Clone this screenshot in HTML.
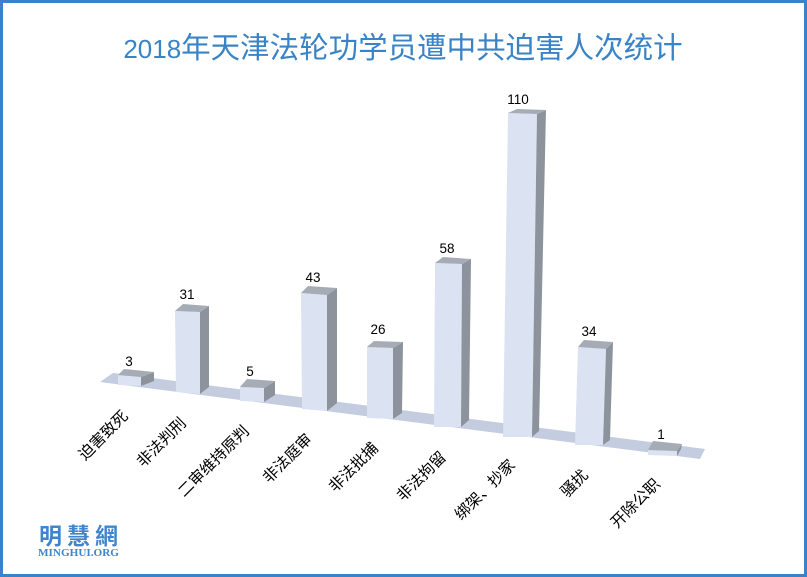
<!DOCTYPE html>
<html><head><meta charset="utf-8"><style>
html,body{margin:0;padding:0;background:#fff;}
svg{display:block;}
</style></head><body>
<svg width="807" height="577" viewBox="0 0 807 577" xmlns="http://www.w3.org/2000/svg">
<rect x="0" y="0" width="807" height="577" fill="#ffffff"/>
<rect x="1.5" y="1.5" width="804" height="574" fill="none" stroke="#3b83c6" stroke-width="3"/>

<text x="403" y="58" text-anchor="middle" fill="#3a84c6" font-family="Liberation Sans, Noto Sans CJK SC, sans-serif"><tspan font-size="26">2018</tspan><tspan font-size="29.5" font-family="Noto Sans CJK SC, sans-serif">年天津法轮功学员遭中共迫害人次统计</tspan></text>

<!-- floor -->
<polygon points="113,373 705,449 700,459 100,382" fill="#c3cddf"/>

<g>
<!-- bar 1 -->
<polygon points="118,375 141,377 141,386 118,385" fill="#dbe2f1"/>
<polygon points="141,377 154,372 154,381 141,386" fill="#8d939c"/>
<polygon points="118,375 124,369 154,372 141,377" fill="#a6acb6"/>
<!-- bar 2 -->
<polygon points="175,311 200,312 200,394 176,392" fill="#dbe2f1"/>
<polygon points="200,312 209,306 209,387 200,394" fill="#8d939c"/>
<polygon points="175,311 183,304 209,306 200,312" fill="#a6acb6"/>
<!-- bar 3 -->
<polygon points="240,387 264,388 264,402 240,401" fill="#dbe2f1"/>
<polygon points="264,388 275,381 275,395 264,402" fill="#8d939c"/>
<polygon points="240,387 247,379 275,381 264,388" fill="#a6acb6"/>
<!-- bar 4 -->
<polygon points="301,293 327,295 327,411 302,409" fill="#dbe2f1"/>
<polygon points="327,295 337,288 337,403 327,411" fill="#8d939c"/>
<polygon points="301,293 308,286 337,288 327,295" fill="#a6acb6"/>
<!-- bar 5 -->
<polygon points="367,347 393,348 393,419 367,418" fill="#dbe2f1"/>
<polygon points="393,348 403,342 402,413 393,419" fill="#8d939c"/>
<polygon points="367,347 374,341 403,342 393,348" fill="#a6acb6"/>
<!-- bar 6 -->
<polygon points="435,263 462,264 461,427 434,427" fill="#dbe2f1"/>
<polygon points="462,264 471,259 469,420 461,427" fill="#8d939c"/>
<polygon points="435,263 443,257 471,259 462,264" fill="#a6acb6"/>
<!-- bar 7 -->
<polygon points="508,113 537,114 532,437 503,437" fill="#dbe2f1"/>
<polygon points="537,114 546,110 539,431 532,437" fill="#8d939c"/>
<polygon points="508,113 517,109 546,110 537,114" fill="#a6acb6"/>
<!-- bar 8 -->
<polygon points="578,347 606,349 603,445 575,445" fill="#dbe2f1"/>
<polygon points="606,349 613,342 610,440 603,445" fill="#8d939c"/>
<polygon points="578,347 584,340 613,342 606,349" fill="#a6acb6"/>
<!-- bar 9 -->
<polygon points="648,450 677,451 677,456 648,455" fill="#dbe2f1"/>
<polygon points="677,451 682,444 681,449 677,456" fill="#8d939c"/>
<polygon points="648,450 653,441 682,444 677,451" fill="#a6acb6"/>
</g>

<g font-family="Liberation Sans, sans-serif" font-size="13.5" fill="#000" text-anchor="middle">
<text x="129" y="366">3</text>
<text x="187" y="299">31</text>
<text x="250" y="376">5</text>
<text x="313" y="282">43</text>
<text x="378" y="334">26</text>
<text x="447" y="253">58</text>
<text x="518" y="104">110</text>
<text x="589" y="336">34</text>
<text x="661" y="439">1</text>
</g>

<g font-family="Liberation Sans, Noto Sans CJK SC, sans-serif" font-size="15.5" fill="#000" text-anchor="end">
<text transform="translate(129,417) rotate(-45)">迫害致死</text>
<text transform="translate(187,424) rotate(-45)">非法判刑</text>
<text transform="translate(250,432) rotate(-45)">二审维持原判</text>
<text transform="translate(313,440) rotate(-45)">非法庭审</text>
<text transform="translate(379,449) rotate(-45)">非法批捕</text>
<text transform="translate(447,458) rotate(-45)">非法拘留</text>
<text transform="translate(516,466) rotate(-45)">绑架、抄家</text>
<text transform="translate(589,476) rotate(-45)">骚扰</text>
<text transform="translate(661,485) rotate(-45)">开除公职</text>
</g>

<text x="39" y="544" font-family="Noto Sans CJK TC, sans-serif" font-weight="bold" font-size="23" fill="#3f85cc" textLength="79" lengthAdjust="spacing">明慧網</text>
<text x="38" y="556" font-family="Liberation Serif, serif" font-weight="bold" font-size="11" fill="#3f85cc" textLength="81" lengthAdjust="spacingAndGlyphs">MINGHUI.ORG</text>
</svg>
</body></html>
